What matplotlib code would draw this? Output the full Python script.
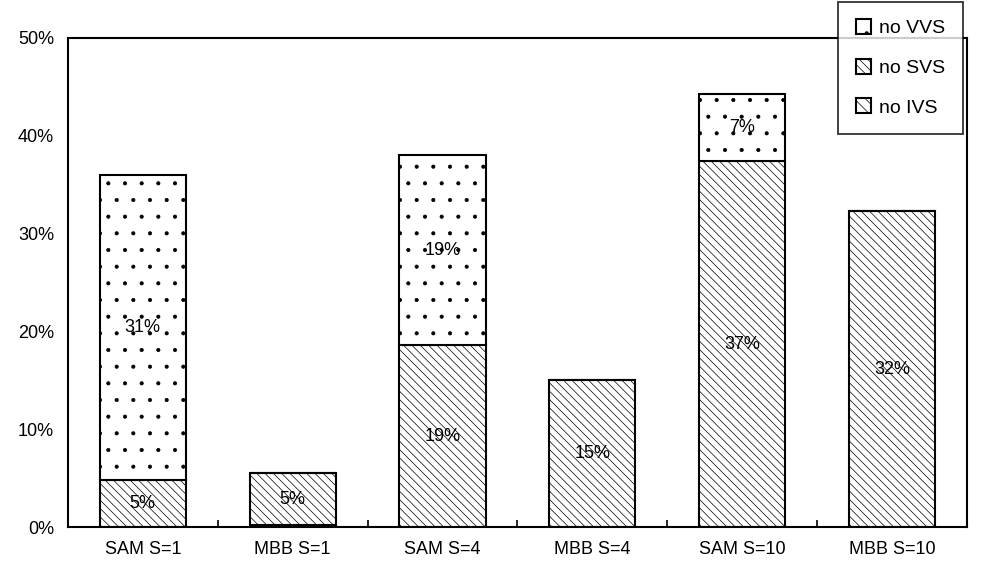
import numpy as np
import matplotlib
matplotlib.use('Agg')
import matplotlib.pyplot as plt

categories = ['SAM S=1', 'MBB S=1', 'SAM S=4', 'MBB S=4', 'SAM S=10', 'MBB S=10']
ivs = np.array([0.0, 0.2, 0.0, 0.0, 0.0, 0.0])
svs = np.array([4.8, 5.3, 18.6, 15.0, 37.4, 32.3])
vvs = np.array([31.2, 0.0, 19.4, 0.0, 6.9, 0.0])
svs_labels = ['5%', '5%', '19%', '15%', '37%', '32%']
vvs_labels = ['31%', '', '19%', '', '7%', '']

plt.rcParams['font.family'] = ['Liberation Sans', 'DejaVu Sans']
plt.rcParams['hatch.linewidth'] = 0.5

fig = plt.figure(figsize=(9.98, 5.65), dpi=100)
ax = fig.add_axes([0.068, 0.067, 0.901, 0.866])

x = np.arange(len(categories))
w = 0.575
b1 = ax.bar(x, ivs, w, color='white', edgecolor='black', linewidth=1.5, hatch='\\\\\\', label='no IVS')
b2 = ax.bar(x, svs, w, bottom=ivs, color='white', edgecolor='black', linewidth=1.5, hatch='\\\\\\\\', label='no SVS')
b3 = ax.bar(x, vvs, w, bottom=ivs + svs, color='white', edgecolor='black', linewidth=1.5, hatch='.', label='no VVS')

for i in range(len(categories)):
    if svs_labels[i]:
        ax.text(x[i], ivs[i] + svs[i] / 2, svs_labels[i], ha='center', va='center', fontsize=13)
    if vvs_labels[i]:
        ax.text(x[i], ivs[i] + svs[i] + vvs[i] / 2, vvs_labels[i], ha='center', va='center', fontsize=13)

ax.set_xlim(-0.5, len(categories) - 0.5)
ax.set_ylim(0, 50)
ax.set_yticks(np.arange(0, 51, 10))
ax.set_yticklabels(['%d%%' % v for v in range(0, 51, 10)], fontsize=13)
ax.set_xticks(x)
ax.set_xticklabels(categories, fontsize=13)
ax.set_xticks(np.arange(0.5, len(categories) - 0.5, 1), minor=True)
ax.tick_params(axis='x', which='major', length=0, pad=10)
ax.tick_params(axis='x', which='minor', direction='in', length=5, width=1.2)
ax.tick_params(axis='y', length=0, pad=10)
for s in ax.spines.values():
    s.set_linewidth(1.5)

leg = fig.legend(handles=[b3, b2, b1], loc='upper left', bbox_to_anchor=(0.840, 0.997),
                 fontsize=14, frameon=True, fancybox=False, edgecolor='black',
                 handlelength=0.8, handleheight=0.8, handletextpad=0.4,
                 labelspacing=1.1, borderpad=0.9, borderaxespad=0)
leg.get_frame().set_linewidth(1.3)

fig.savefig('out.png', dpi=100)
